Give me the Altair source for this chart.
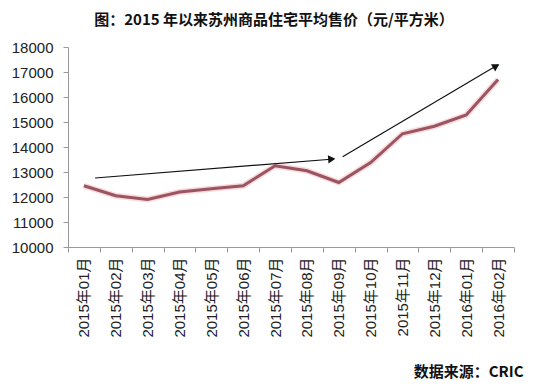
import json
import altair as alt
import pandas as pd

months = ["2015年01月", "2015年02月", "2015年03月", "2015年04月", "2015年05月",
          "2015年06月", "2015年07月", "2015年08月", "2015年09月", "2015年10月",
          "2015年11月", "2015年12月", "2016年01月", "2016年02月"]
prices = [12450, 12050, 11900, 12200, 12330, 12450, 13250,
          13050, 12580, 13380, 14530, 14830, 15280, 16700]

# arrows (x in month index units, y in price units)
arrow_x = [0.35, 8.12]
arrow_y = [12760, 13610]
arrow_x2 = [7.85, 13.0]
arrow_y2 = [13520, 17290]
head_x = [7.78, 12.94]
head_y = [13518, 17240]
head_angle = [355.5, 329.3]

title_text = "图：2015 年以来苏州商品住宅平均售价（元/平方米）"
source_text = "数据来源：CRIC"

df = pd.DataFrame({"idx": list(range(len(months))), "price": prices})
arrows = pd.DataFrame({"x": arrow_x, "y": arrow_y, "x2": arrow_x2, "y2": arrow_y2})
heads = pd.DataFrame({"x": head_x, "y": head_y, "angle": head_angle})

FONT = "Liberation Sans, Noto Sans CJK SC, sans-serif"
CJK = "Noto Sans CJK SC, sans-serif"

label_expr = f"datum.value % 1 == 0 ? {json.dumps(months, ensure_ascii=False)}[datum.value] : ''"
x_ticks = [i * 0.5 - 0.5 for i in range(2 * len(months) + 1)]

x_scale = alt.Scale(domain=[-0.5, len(months) - 0.5], nice=False, zero=False)
y_scale = alt.Scale(domain=[10000, 18000], nice=False, zero=False)

x_axis = alt.Axis(
    values=x_ticks, labelExpr=label_expr, labelAngle=270, labelFont=FONT,
    labelFontSize=15, labelColor="#222", labelPadding=5, tickSize=5,
    tickColor="#999", domainColor="#999", grid=False, labelOverlap=False,
    labelBound=False, labelFlush=False,
    tickOpacity={"condition": {"test": "datum.value % 1 == 0", "value": 0}, "value": 1},
    title=source_text, titleFont=CJK, titleFontSize=15, titleFontWeight="bold",
    titleColor="#111", titleAlign="right", titleAnchor="end", titleBaseline="top",
    titleX=455, titleY=117,
)
y_axis = alt.Axis(
    values=list(range(10000, 18001, 1000)), format="d", labelFont=FONT, labelFontSize=15,
    labelColor="#222", labelPadding=10, tickSize=5, tickColor="#999",
    labelOverlap=False, domainColor="#999", grid=False, title=None,
)

X = lambda f: alt.X(f, type="quantitative", scale=x_scale, axis=x_axis)
Y = lambda f: alt.Y(f, type="quantitative", scale=y_scale, axis=y_axis)

glow = alt.Chart(df).mark_line(color="#f2b5bb", strokeWidth=6, opacity=0.5).encode(
    x=X("idx"), y=Y("price"),
)
line = alt.Chart(df).mark_line(color="#9a5560", strokeWidth=3).encode(
    x=X("idx"), y=Y("price"),
)
arrow_lines = alt.Chart(arrows).mark_rule(color="#111", strokeWidth=1.2).encode(
    x=X("x"), y=Y("y"), x2="x2:Q", y2="y2:Q",
)
arrow_heads = alt.Chart(heads).mark_point(
    shape="triangle-right", filled=True, color="#111", opacity=1, size=70
).encode(
    x=X("x"), y=Y("y"),
    angle=alt.Angle("angle:Q", scale=None),
)

chart = alt.layer(glow, line, arrow_lines, arrow_heads).properties(
    width=446, height=200,
    title=alt.TitleParams(title_text, font=CJK, fontSize=15, fontWeight="bold",
                          color="#111", anchor="middle", dx=-17, offset=12),
    autosize=alt.AutoSizeParams(type="none"),
    padding={"left": 60, "top": 39, "right": 28, "bottom": 138},
    background="white",
).configure_view(stroke=None)

chart.save("out.html", embed_options={"renderer": "svg", "actions": False})
